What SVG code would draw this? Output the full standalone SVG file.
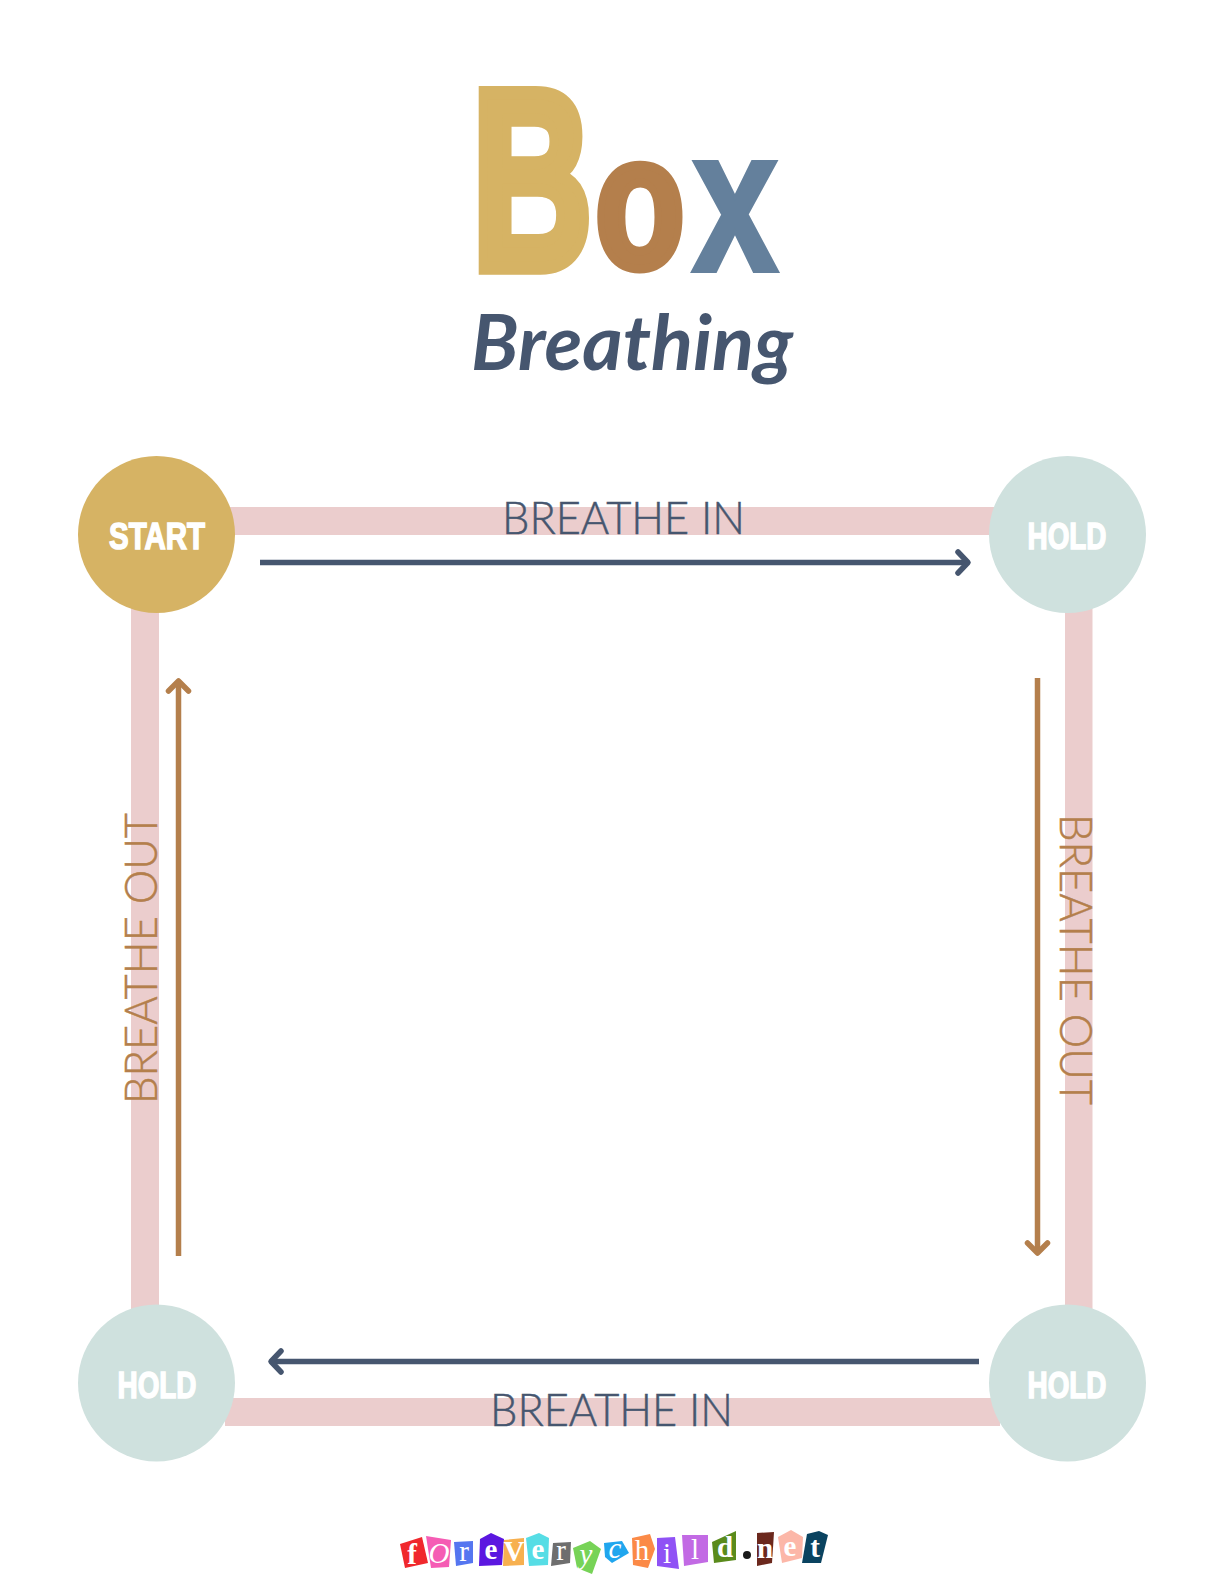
<svg xmlns="http://www.w3.org/2000/svg" width="1224" height="1584" viewBox="0 0 1224 1584">
<style>
.bar{fill:#ebcdcd}
.lab{font-family:"Lato","Open Sans",sans-serif;font-weight:300;font-size:45px;stroke-width:.5}
.navy{fill:#46566f;stroke:#46566f}
.tan{fill:#b47f4c;stroke:#b47f4c}
.nodetxt{font-family:"Liberation Sans",Arial,sans-serif;font-weight:700;fill:#fff;stroke:#fff;stroke-width:1.5;font-size:36px;text-anchor:middle}
.title{font-family:"Liberation Sans",Arial,sans-serif;font-weight:700}
.shaft{fill:none;stroke-width:5.5}
.head{fill:none;stroke-width:5.5;stroke-linecap:round;stroke-linejoin:round}
.lg{font-family:"Liberation Serif",serif;font-weight:700;font-size:29px;fill:#fff;text-anchor:middle}
.lr{font-weight:400}
.li{font-style:italic;font-weight:400}
</style>
<rect width="1224" height="1584" fill="#fff"/>
<g id="title">
<text class="title" transform="translate(472 268) scale(.8 1.22)" font-size="208" fill="#d6b364" stroke="#d6b364" stroke-width="11">B</text>
<text class="title" transform="translate(595 267) scale(.98 1.26)" font-size="150" fill="#b47f4c" stroke="#b47f4c" stroke-width="7">o</text>
<text class="title" transform="translate(692 271) scale(1.02 1.36)" font-size="152" fill="#64809c" stroke="#64809c" stroke-width="3">x</text>
<text x="471" y="370" font-family="Lato,'Open Sans',sans-serif" font-style="italic" font-weight="700" font-size="76" fill="#46566f" textLength="322" lengthAdjust="spacingAndGlyphs">Breathing</text>
</g>
<g id="connectors">
<rect class="bar" x="225" y="507" width="775" height="28"/>
<rect class="bar" x="131" y="600" width="28" height="720"/>
<rect class="bar" x="1065" y="600" width="27.500" height="720"/>
<rect class="bar" x="225" y="1398" width="775" height="28"/>
<path class="shaft" stroke="#46566f" d="M260 562.500H968"/><path class="head" stroke="#46566f" d="M958 552L968 562.500L958 573"/>
<path class="shaft" stroke="#b47f4c" d="M1037.500 678V1253"/><path class="head" stroke="#b47f4c" d="M1027.500 1243L1037.500 1253L1047.500 1243"/>
<path class="shaft" stroke="#46566f" d="M979 1361.500H271"/><path class="head" stroke="#46566f" d="M281 1351L271 1361.500L281 1372"/>
<path class="shaft" stroke="#b47f4c" d="M178.500 1256V681"/><path class="head" stroke="#b47f4c" d="M168.500 691L178.500 681L188.500 691"/>
</g>
<g id="label-top"><text class="lab navy" x="502" y="534" textLength="243" lengthAdjust="spacingAndGlyphs">BREATHE IN</text></g>
<g id="label-bottom"><text class="lab navy" x="490" y="1426" textLength="243" lengthAdjust="spacingAndGlyphs">BREATHE IN</text></g>
<g id="label-left"><text class="lab tan" transform="translate(157 1104) rotate(-90)" textLength="291" lengthAdjust="spacingAndGlyphs">BREATHE OUT</text></g>
<g id="label-right"><text class="lab tan" transform="translate(1060 814) rotate(90)" textLength="291" lengthAdjust="spacingAndGlyphs">BREATHE OUT</text></g>
<g id="node-start"><circle cx="156.500" cy="534.500" r="78.500" fill="#d6b364"/><text class="nodetxt" x="157" y="549" textLength="96" lengthAdjust="spacingAndGlyphs">START</text></g>
<g id="node-hold-tr"><circle cx="1067.500" cy="534.500" r="78.500" fill="#cfe1de"/><text class="nodetxt" x="1067" y="549" textLength="79" lengthAdjust="spacingAndGlyphs">HOLD</text></g>
<g id="node-hold-br"><circle cx="1067.500" cy="1383" r="78.500" fill="#cfe1de"/><text class="nodetxt" x="1067" y="1398" textLength="79" lengthAdjust="spacingAndGlyphs">HOLD</text></g>
<g id="node-hold-bl"><circle cx="156.500" cy="1383" r="78.500" fill="#cfe1de"/><text class="nodetxt" x="157" y="1398" textLength="79" lengthAdjust="spacingAndGlyphs">HOLD</text></g>
<g id="logo">
<polygon points="400,1544 422,1537 428,1563 405,1568" fill="#f0282d"/><text class="lg" x="412" y="1564">f</text>
<polygon points="426,1536 451,1540 449,1567 431,1568" fill="#f55cb4"/><text class="lg li" x="439" y="1563" font-size="27">O</text>
<polygon points="454,1542 473,1541 473,1563 456,1566" fill="#5576f0"/><text class="lg lr" x="464" y="1561">r</text>
<polygon points="480,1539 491,1533 504,1539 502,1565 479,1566" fill="#5b17e0"/><text class="lg" x="491" y="1559">e</text>
<polygon points="504,1540 524,1538 524,1565 503,1566" fill="#f7b04f"/><text class="lg" x="514" y="1561" font-size="26">V</text>
<polygon points="526,1538 539,1533 549,1538 548,1565 529,1566" fill="#56dde5"/><text class="lg" x="538" y="1559">e</text>
<polygon points="553,1543 571,1542 570,1563 551,1566" fill="#6e6e6e"/><text class="lg lr" x="561" y="1560">r</text>
<polygon points="573,1548 590,1541 601,1549 592,1574 577,1568" fill="#77d357"/><text class="lg li" x="586" y="1564">y</text>
<polygon points="604,1543 622,1541 629,1553 612,1563 605,1557" fill="#20a6ee"/><text class="lg li" x="615" y="1558">c</text>
<polygon points="632,1538 650,1534 655,1549 648,1568 633,1565" fill="#fb8a47"/><text class="lg lr" x="642" y="1560">h</text>
<polygon points="657,1538 675,1537 679,1569 657,1566" fill="#8f52f5"/><text class="lg lr" x="667" y="1563">i</text>
<polygon points="682,1535 708,1535 708,1562 684,1566" fill="#c26ae4"/><text class="lg lr" x="695" y="1559">l</text>
<polygon points="712,1542 736,1531 736,1560 714,1563" fill="#5a8b1c"/><text class="lg" x="725" y="1557">d</text>
<circle cx="747" cy="1555" r="4" fill="#1a1a1a"/>
<polygon points="757,1533 774,1532 772,1563 757,1566" fill="#6b281d"/><text class="lg" x="765" y="1558">n</text>
<polygon points="778,1537 791,1530 803,1537 802,1558 782,1563" fill="#fcb7a8"/><text class="lg" x="790" y="1556">e</text>
<polygon points="807,1534 819,1531 828,1535 821,1563 802,1563" fill="#0a4360"/><text class="lg" x="815" y="1557">t</text>
</g>
</svg>
